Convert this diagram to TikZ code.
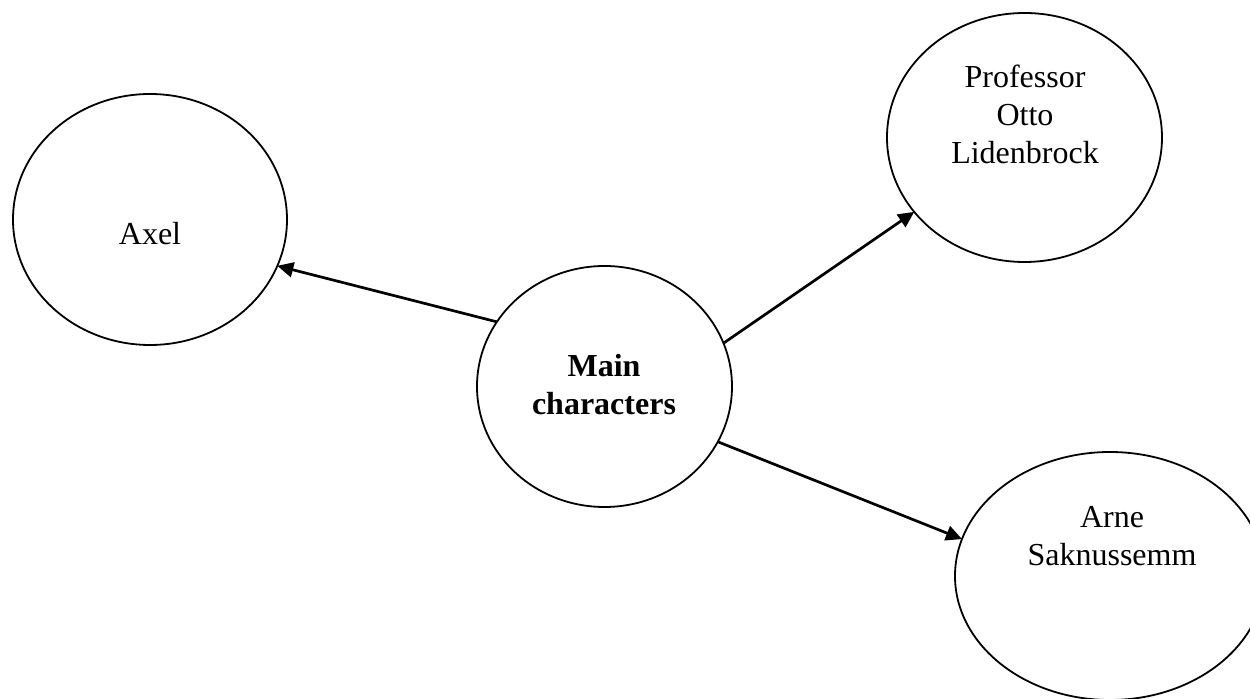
\documentclass[tikz,border=0pt]{standalone}
\usepackage{fontspec}
\setmainfont{Liberation Serif}
\usetikzlibrary{shapes.geometric,arrows.meta}
\begin{document}
\begin{tikzpicture}[x=0.5pt,y=-0.5pt,
  bubble/.style={draw=black,line width=0.9pt,ellipse,inner sep=0pt,outer sep=0pt},
  lbl/.style={anchor=north,inner sep=0pt,align=center,font=\fontsize{16}{19}\selectfont},
  link/.style={line width=1.35pt,-{Triangle[length=8pt,width=7.5pt]}}]
\useasboundingbox (0,0) rectangle (1250,699);
% ellipses
\node[bubble,minimum width=137pt,minimum height=125.5pt] (axel) at (150,219.5) {};
\node[bubble,minimum width=127.5pt,minimum height=120.5pt] (main) at (604.5,386.5) {};
\node[bubble,minimum width=137.5pt,minimum height=124.5pt] (prof) at (1024.5,137.5) {};
\node[bubble,minimum width=155pt,minimum height=124pt] (arne) at (1110,576) {};
% texts
\node[lbl] (taxel) at (150,222) {Axel};
\node[lbl] (tmain) at (604,354) {\bfseries Main\\\bfseries characters};
\node[lbl] (tprof) at (1025,65) {Professor\\Otto\\Lidenbrock};
\node[lbl] (tarne) at (1112,506) {Arne\\Saknussemm};
% connectors
\draw[link] (main.149.2) -- (axel.-20.1);
\draw[link] (main.20.9) -- (prof.214.1);
\draw[link] (main.-26.5) -- (arne.166.3);
\end{tikzpicture}
\end{document}
